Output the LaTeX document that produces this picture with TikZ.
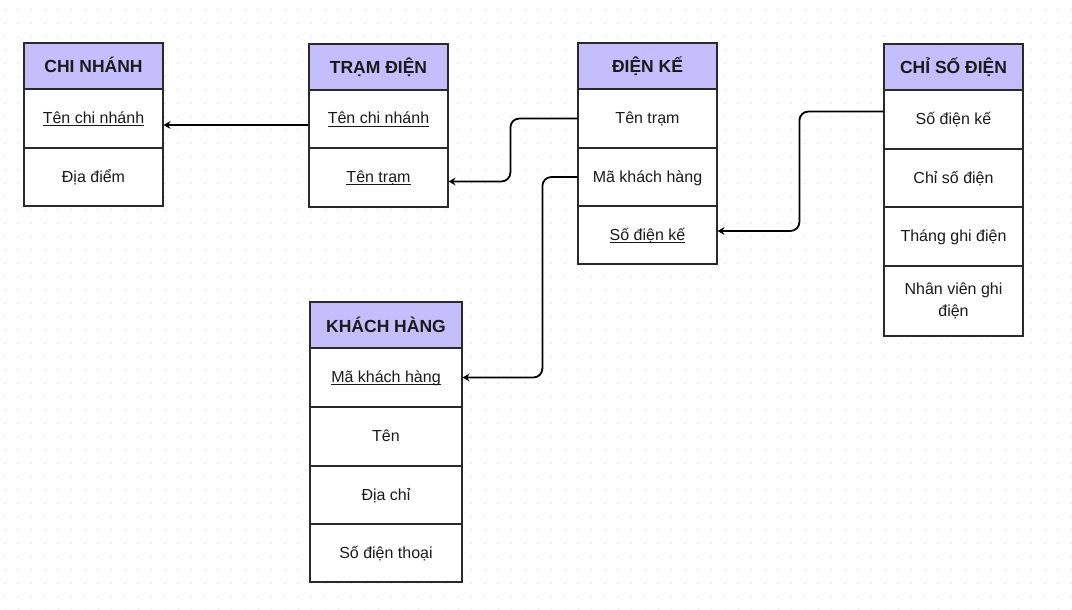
\documentclass[tikz,border=0pt]{standalone}
\usepackage{fontspec}
\setmainfont{Liberation Sans}
\usetikzlibrary{arrows.meta}
\definecolor{hdr}{HTML}{C5BEFC}
\definecolor{bord}{HTML}{2A2A2A}
\definecolor{dotc}{HTML}{E0E0E0}
\definecolor{txt}{HTML}{1A1A1A}
\newcommand\keyul[1]{\setbox0\hbox{#1}\rlap{\rule[-2.6pt]{\wd0}{0.9pt}}\box0}
\tikzset{
  cellbase/.style={draw=bord, line width=1.2pt, inner sep=0pt, fill=white, text=txt, align=center},
  hcell/.style={cellbase, fill=hdr, font=\fontsize{17.5}{20}\selectfont\bfseries, text height=14pt, text depth=0pt},
  bcell/.style={cellbase, font=\fontsize{16}{22}\selectfont, text height=12.5pt, text depth=2.5pt},
  mcell/.style={cellbase, font=\fontsize{16}{22}\selectfont},
  conn/.style={draw=black, line width=1.8pt, rounded corners=9pt, -{Stealth[length=7pt,width=8pt,inset=2.5pt]}}
}
% #1 style, #2 name, #3 x1, #4 y1, #5 x2, #6 y2, #7 text
\newcommand\cellnode[7]{\node[#1, minimum width={(#5-#3)*1pt}, minimum height={(#6-#4)*1pt}] (#2) at ({(#3+#5)/2},{(#4+#6)/2}) {#7};}
\begin{document}
\begin{tikzpicture}[x=1pt,y=-1pt]
\useasboundingbox (0,0) rectangle (1072,610);
\fill[white] (0,0) rectangle (1072,610);
\foreach \i in {0,...,80}{\foreach \j in {0,...,45}{\fill[dotc] ({5+\i*13.333},{10+\j*13.333}) circle (0.8pt);}}
% CHI NHANH
\cellnode{hcell}{cnh}{24}{43}{163}{89}{CHI NHÁNH}
\cellnode{bcell}{cn1}{24}{89}{163}{148}{\keyul{Tên chi nhánh}}
\cellnode{bcell}{cn2}{24}{148}{163}{206}{Địa điểm}
% TRAM DIEN
\cellnode{hcell}{tdh}{309}{44}{448}{90}{TRẠM ĐIỆN}
\cellnode{bcell}{td1}{309}{90}{448}{148}{\keyul{Tên chi nhánh}}
\cellnode{bcell}{td2}{309}{148}{448}{207}{\keyul{Tên trạm}}
% DIEN KE
\cellnode{hcell}{dkh}{578}{43}{717}{89}{ĐIỆN KẾ}
\cellnode{bcell}{dk1}{578}{89}{717}{148}{Tên trạm}
\cellnode{bcell}{dk2}{578}{148}{717}{206}{Mã khách hàng}
\cellnode{bcell}{dk3}{578}{206}{717}{264}{\keyul{Số điện kế}}
% CHI SO DIEN
\cellnode{hcell}{csh}{884}{44}{1023}{90}{CHỈ SỐ ĐIỆN}
\cellnode{bcell}{cs1}{884}{90}{1023}{149}{Số điện kế}
\cellnode{bcell}{cs2}{884}{149}{1023}{207}{Chỉ số điện}
\cellnode{bcell}{cs3}{884}{207}{1023}{266}{Tháng ghi điện}
\cellnode{mcell}{cs4}{884}{266}{1023}{336}{Nhân viên ghi\\điện}
% KHACH HANG
\cellnode{hcell}{khh}{310}{302}{462}{348}{KHÁCH HÀNG}
\cellnode{bcell}{kh1}{310}{348}{462}{407}{\keyul{Mã khách hàng}}
\cellnode{bcell}{kh2}{310}{407}{462}{466}{Tên}
\cellnode{bcell}{kh3}{310}{466}{462}{524}{Địa chỉ}
\cellnode{bcell}{kh4}{310}{524}{462}{582}{Số điện thoại}
% connectors
\draw[conn] ([yshift=-6pt]td1.west) -- ([yshift=-6pt]td1.west -| cn1.east);
\draw[conn] (dk1.west) -- ++(-67,0) |- ([yshift=-4pt]td2.east);
\draw[conn] (dk2.west) -- ++(-35,0) |- (kh1.east);
\draw[conn] ([yshift=8pt]cs1.west) -- ++(-84,0) |- ([yshift=4pt]dk3.east);
\end{tikzpicture}
\end{document}
